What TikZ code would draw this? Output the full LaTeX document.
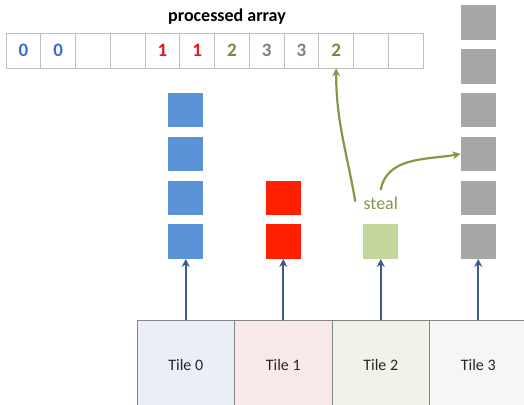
\documentclass[tikz,border=0pt]{standalone}
\usepackage{fontspec}
\setmainfont{Carlito}
\usetikzlibrary{positioning,calc,arrows.meta}

\definecolor{cellgray}{HTML}{BFBFBF}
\definecolor{numblue}{HTML}{3A6BD9}
\definecolor{numred}{HTML}{E8161B}
\definecolor{numgreen}{HTML}{6E8B3D}
\definecolor{numgray}{HTML}{7F7F7F}
\definecolor{sqblue}{HTML}{5B93D7}
\definecolor{sqred}{HTML}{FF2000}
\definecolor{sqgreen}{HTML}{C3D69B}
\definecolor{sqgray}{HTML}{A6A6A6}
\definecolor{arrowblue}{HTML}{385D8A}
\definecolor{stealgreen}{HTML}{7F9A45}
\definecolor{tileline}{HTML}{858585}
\definecolor{tilefill0}{HTML}{E9EEF7}
\definecolor{tilefill1}{HTML}{F8E8E8}
\definecolor{tilefill2}{HTML}{F0F4E8}
\definecolor{tilefill3}{HTML}{F6F6F6}

\begin{document}
\begin{tikzpicture}[
    x=1pt, y=-1pt,
    every node/.style={inner sep=0},
    cellbox/.style={draw=cellgray, line width=0.8pt, minimum width=34.75pt,
        minimum height=35pt, font=\fontsize{19}{22}\selectfont\bfseries},
    stackbox/.style={minimum width=35pt, minimum height=34.5pt},
    tilebox/.style={draw=tileline, line width=1pt, outer sep=0,
        minimum width=97.5pt, minimum height=90pt, text=black!85,
        font=\fontsize{16}{19}\selectfont},
    tilearrow/.style={draw=arrowblue, line width=2.4pt,
        -{Stealth[length=8pt,width=8pt]}},
    stealarrow/.style={draw=stealgreen, line width=2.2pt,
        -{Stealth[length=8pt,width=8pt]}}
]
\useasboundingbox (0,0) rectangle (524,404) ;
\clip (0,0) rectangle (524,404) ;

% processed array
\foreach \d/\c [count=\i] in {0/numblue,0/numblue,{}/black,{}/black,
        1/numred,1/numred,2/numgreen,3/numgray,3/numgray,2/numgreen,
        {}/black,{}/black}
    \node[cellbox, text=\c] (cell\i) at ({6+(\i-0.5)*34.75}, 50.5)
        {\raisebox{-1.5pt}{\d}} ;
\node[font=\fontsize{18}{21}\selectfont\bfseries] (title) at (227,17)
    {processed array} ;

% tiles
\node[tilebox, fill=tilefill0, anchor=north west] (tile0) at (137,320) {Tile 0} ;
\node[tilebox, fill=tilefill1, right=0pt of tile0] (tile1) {Tile 1} ;
\node[tilebox, fill=tilefill2, right=0pt of tile1] (tile2) {Tile 2} ;
\node[tilebox, fill=tilefill3, right=0pt of tile2] (tile3) {Tile 3} ;

% work stacks
\foreach \t/\s/\n/\c in {0/b/4/sqblue, 1/r/2/sqred, 2/g/1/sqgreen, 3/k/6/sqgray} {
    \node[stackbox, fill=\c, above=61pt of tile\t] (\s1) {} ;
    \ifnum\n>1
        \foreach \i [evaluate=\i as \j using int(\i-1)] in {2,...,\n}
            \node[stackbox, fill=\c, above=8.9pt of \s\j] (\s\i) {} ;
    \fi
    \draw[tilearrow] (tile\t.north) -- (\s1.south) ;
}

% stealing
\node[text=stealgreen, font=\fontsize{18}{21}\selectfont, above=14pt of g1]
    (steal) {steal} ;
\draw[stealarrow] ($(steal.west)+(-8,-2)$) to[out=100, in=-90] (cell10.south) ;
\draw[stealarrow] ($(steal.north)+(0,-7)$) to[out=80, in=190] (k3.west) ;
\end{tikzpicture}
\end{document}
